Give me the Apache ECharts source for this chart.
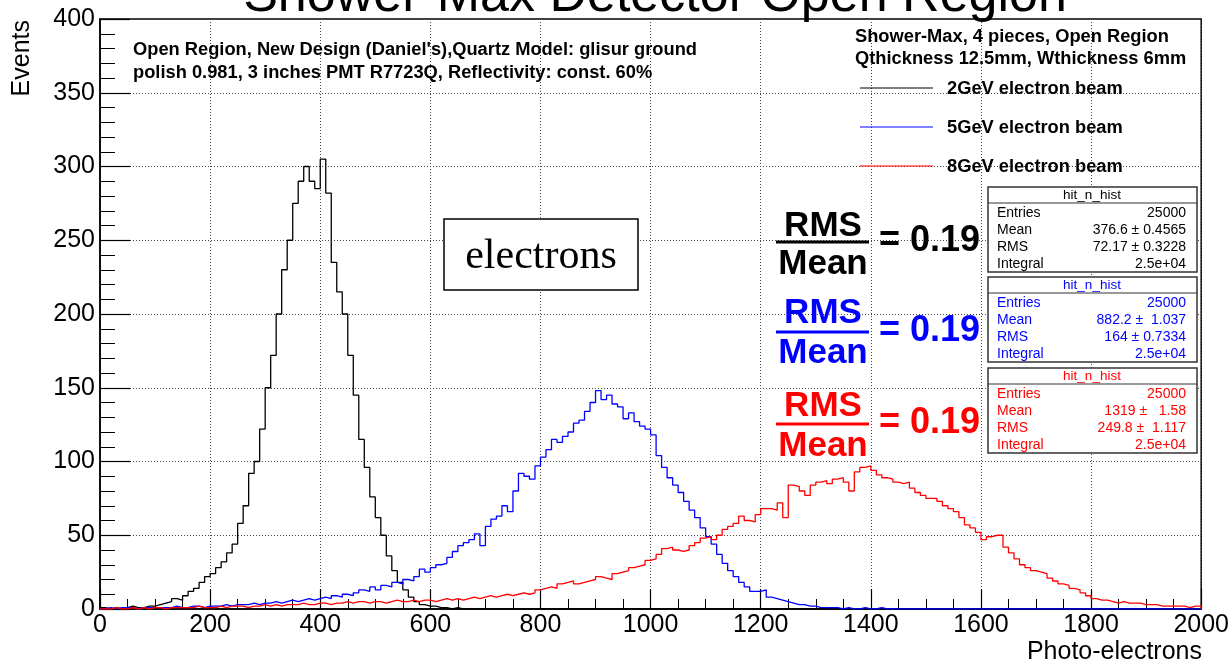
<!DOCTYPE html>
<html>
<head>
<meta charset="utf-8">
<script src="https://cdn.jsdelivr.net/npm/echarts@6/dist/echarts.min.js"></script>
<style>html,body{margin:0;padding:0;background:#fff;}#c{width:1232px;height:666px;}</style>
</head>
<body>
<div id="c"></div>
<script>
// ---- data (bin width 10 photo-electrons, counts) ----
const BIN_WIDTH = 10;
const xTicks = [0, 200, 400, 600, 800, 1000, 1200, 1400, 1600, 1800, 2000];
const yTicks = [0, 50, 100, 150, 200, 250, 300, 350, 400];
const seriesNames = ['2GeV electron beam', '5GeV electron beam', '8GeV electron beam'];

const black2GeV = [
  1,0,1,0,1,2,1,1,2,2,
  3,4,5,7,6,9,12,14,18,22,
  24,28,32,38,44,58,70,92,100,122,
  150,172,200,230,250,275,290,300,290,285,
  305,282,235,215,200,172,145,115,96,76,
  62,50,36,26,18,13,8,5,3,2,
  2,1,1,0,1,0,0,0,0,0
];
const blue5GeV = [
  0,1,0,1,1,1,0,1,1,1,
  1,1,1,2,1,1,2,2,1,2,
  2,2,3,2,3,3,3,4,3,4,
  4,5,4,5,6,5,6,7,6,7,
  8,7,9,8,10,9,11,13,12,15,
  13,16,15,18,17,20,19,22,27,25,
  28,30,31,35,39,43,45,47,51,43,
  56,61,63,70,66,80,92,90,88,97,
  103,108,115,113,117,120,126,128,134,140,
  148,142,145,139,137,129,133,127,124,122,
  118,104,96,89,84,79,73,67,62,55,
  49,44,37,31,26,22,18,15,12,12,
  13,8,7,6,5,4,3,3,2,2,
  1,1,1,1,0,1,0,0,1,0,
  0,1,0,0,0,0,0,0,0,0
];
const red8GeV = [
  0,0,1,0,0,1,0,1,0,1,
  1,0,1,1,1,1,1,2,1,1,
  1,2,1,2,2,2,1,2,2,3,
  2,3,2,3,3,3,4,3,3,4,
  4,3,4,4,5,4,5,5,4,5,
  5,4,5,6,5,5,6,5,6,6,
  5,6,7,6,7,6,7,8,7,8,
  9,8,9,10,9,10,11,10,11,13,
  14,15,14,17,18,19,17,18,19,20,
  22,21,20,24,25,26,28,29,30,33,
  34,37,41,42,40,39,40,43,45,48,
  49,47,50,54,56,58,63,60,59,64,
  68,68,67,72,62,84,83,80,77,84,
  86,87,85,88,89,86,80,93,96,97,
  94,91,89,88,86,85,86,82,79,77,
  75,75,73,70,68,66,62,57,55,52,
  47,49,50,50,42,38,34,30,28,26,
  25,24,21,19,17,16,14,13,11,9,
  7,6,6,5,4,5,4,4,4,3,
  3,3,2,2,2,2,2,1,2,2
];
const statsBlack = [['Entries','25000'],['Mean','376.6 \u00b1 0.4565'],['RMS','72.17 \u00b1 0.3228'],['Integral','2.5e+04']];
const statsBlue  = [['Entries','25000'],['Mean','882.2 \u00b1  1.037'],['RMS','164 \u00b1 0.7334'],['Integral','2.5e+04']];
const statsRed   = [['Entries','25000'],['Mean','1319 \u00b1   1.58'],['RMS','249.8 \u00b1  1.117'],['Integral','2.5e+04']];

// ---- build step data ----
function toSteps(vals) {
  const d = vals.map((v, i) => [i * BIN_WIDTH, v]);
  d.push([vals.length * BIN_WIDTH, 0]);
  if (vals.length * BIN_WIDTH < 2000) d.push([2000, 0]);
  return d;
}

const FONT = '"Liberation Sans", Arial, Helvetica, sans-serif';
const chart = echarts.init(document.getElementById('c'), null, {renderer: 'canvas'});

function txt(x, y, text, size, color, opts) {
  opts = opts || {};
  return {
    type: 'text', x: x, y: y, z: 100, rotation: opts.rotation || 0,
    style: {
      text: text, fill: color,
      font: (opts.bold ? 'bold ' : '') + size + 'px ' + (opts.family || FONT),
      align: opts.align || 'left', verticalAlign: opts.va || 'middle',
      textAlign: opts.align || 'left', textVerticalAlign: opts.va || 'middle'
    }
  };
}
function line(x1, y1, x2, y2, color, w) {
  return {type: 'line', z: 100, shape: {x1: x1, y1: y1, x2: x2, y2: y2}, style: {stroke: color, lineWidth: w}};
}
function statsBox(top, rows, color) {
  const els = [];
  els.push({type: 'rect', z: 99, shape: {x: 988, y: top, width: 209, height: 85},
    style: {fill: '#fff', stroke: '#333', lineWidth: 1.5}});
  els.push(line(988, top + 16, 1197, top + 16, '#333', 1.2));
  els.push(txt(1092, top + 8, 'hit_n_hist', 13.5, color, {align: 'center'}));
  rows.forEach((r, i) => {
    const y = top + 26 + i * 17;
    els.push(txt(997, y, r[0], 14, color));
    els.push(txt(1186, y, r[1], 14, color, {align: 'right'}));
  });
  return els;
}
function fraction(cx, yR, yL, yM, color) {
  return [
    txt(cx, yR, 'RMS', 35, color, {bold: true, align: 'center'}),
    line(776, yL, 869, yL, color, 3),
    txt(cx, yM, 'Mean', 35, color, {bold: true, align: 'center'}),
    txt(879, yL - 1, '= 0.19', 36, color, {bold: true})
  ];
}

const graphics = [].concat(
  [
    txt(655, -3, 'Shower-Max Detector Open Region', 52, '#000', {align: 'center'}),
    txt(22, 20, 'Events', 25, '#000', {rotation: Math.PI / 2, align: 'right'}),
    txt(1202, 652, 'Photo-electrons', 25, '#000', {align: 'right'}),
    txt(133, 50, "Open Region, New Design (Daniel's),Quartz Model: glisur ground", 18.3, '#000', {bold: true}),
    txt(133, 73, 'polish 0.981, 3 inches PMT R7723Q, Reflectivity: const. 60%', 18.3, '#000', {bold: true}),
    txt(855, 37, 'Shower-Max, 4 pieces, Open Region', 18.3, '#000', {bold: true}),
    txt(855, 59, 'Qthickness 12.5mm, Wthickness 6mm', 18.3, '#000', {bold: true}),
    line(860, 88, 933, 88, '#000', 1.2),
    line(860, 127, 933, 127, '#0000ff', 1.2),
    line(860, 166, 933, 166, '#ff0000', 1.2),
    txt(947, 89, seriesNames[0], 18.3, '#000', {bold: true}),
    txt(947, 128, seriesNames[1], 18.3, '#000', {bold: true}),
    txt(947, 167, seriesNames[2], 18.3, '#000', {bold: true}),
    {type: 'rect', z: 99, shape: {x: 444, y: 219, width: 194, height: 71}, style: {fill: '#fff', stroke: '#000', lineWidth: 1.5}},
    txt(541, 257, 'electrons', 42, '#000', {align: 'center', family: '"Liberation Serif", "Times New Roman", serif'})
  ],
  fraction(823, 226, 242, 264, '#000'),
  fraction(823, 313, 332, 353, '#0000ff'),
  fraction(823, 406, 424, 446, '#ff0000'),
  statsBox(187, statsBlack, '#000'),
  statsBox(277, statsBlue, '#0000ff'),
  statsBox(368, statsRed, '#ff0000')
);

const option = {
  animation: false,
  backgroundColor: '#fff',
  grid: {left: 100, right: 30, top: 19, bottom: 57, show: true, borderColor: '#000', borderWidth: 1.5},
  xAxis: {
    type: 'value', min: xTicks[0], max: xTicks[xTicks.length - 1], interval: 200,
    axisLine: {show: true, onZero: false, lineStyle: {color: '#000', width: 1.5}},
    axisTick: {show: true, inside: true, length: 20, lineStyle: {color: '#000', width: 1.2}},
    minorTick: {show: true, splitNumber: 4, length: 10, lineStyle: {color: '#000', width: 1}},
    axisLabel: {color: '#000', fontSize: 25, fontFamily: FONT, margin: 4, showMaxLabel: true, showMinLabel: true,
      formatter: v => String(v)},
    splitLine: {show: true, lineStyle: {color: '#444', type: [1, 2], width: 1}}
  },
  yAxis: {
    type: 'value', min: yTicks[0], max: yTicks[yTicks.length - 1], interval: 50,
    axisLine: {show: true, onZero: false, lineStyle: {color: '#000', width: 1.5}},
    axisTick: {show: true, inside: true, length: 30, lineStyle: {color: '#000', width: 1.2}},
    minorTick: {show: true, splitNumber: 5, length: 15, lineStyle: {color: '#000', width: 1}},
    axisLabel: {color: '#000', fontSize: 25, fontFamily: FONT, margin: 5, formatter: v => String(v)},
    splitLine: {show: true, lineStyle: {color: '#444', type: [1, 2], width: 1}}
  },
  series: [
    {name: seriesNames[0], type: 'line', step: 'end', symbol: 'none', data: toSteps(black2GeV), lineStyle: {color: '#000', width: 1.3}, z: 3},
    {name: seriesNames[1], type: 'line', step: 'end', symbol: 'none', data: toSteps(blue5GeV), lineStyle: {color: '#0000ff', width: 1.3}, z: 4},
    {name: seriesNames[2], type: 'line', step: 'end', symbol: 'none', data: toSteps(red8GeV), lineStyle: {color: '#ff0000', width: 1.3}, z: 5}
  ],
  graphic: graphics
};
chart.setOption(option);
</script>
</body>
</html>
